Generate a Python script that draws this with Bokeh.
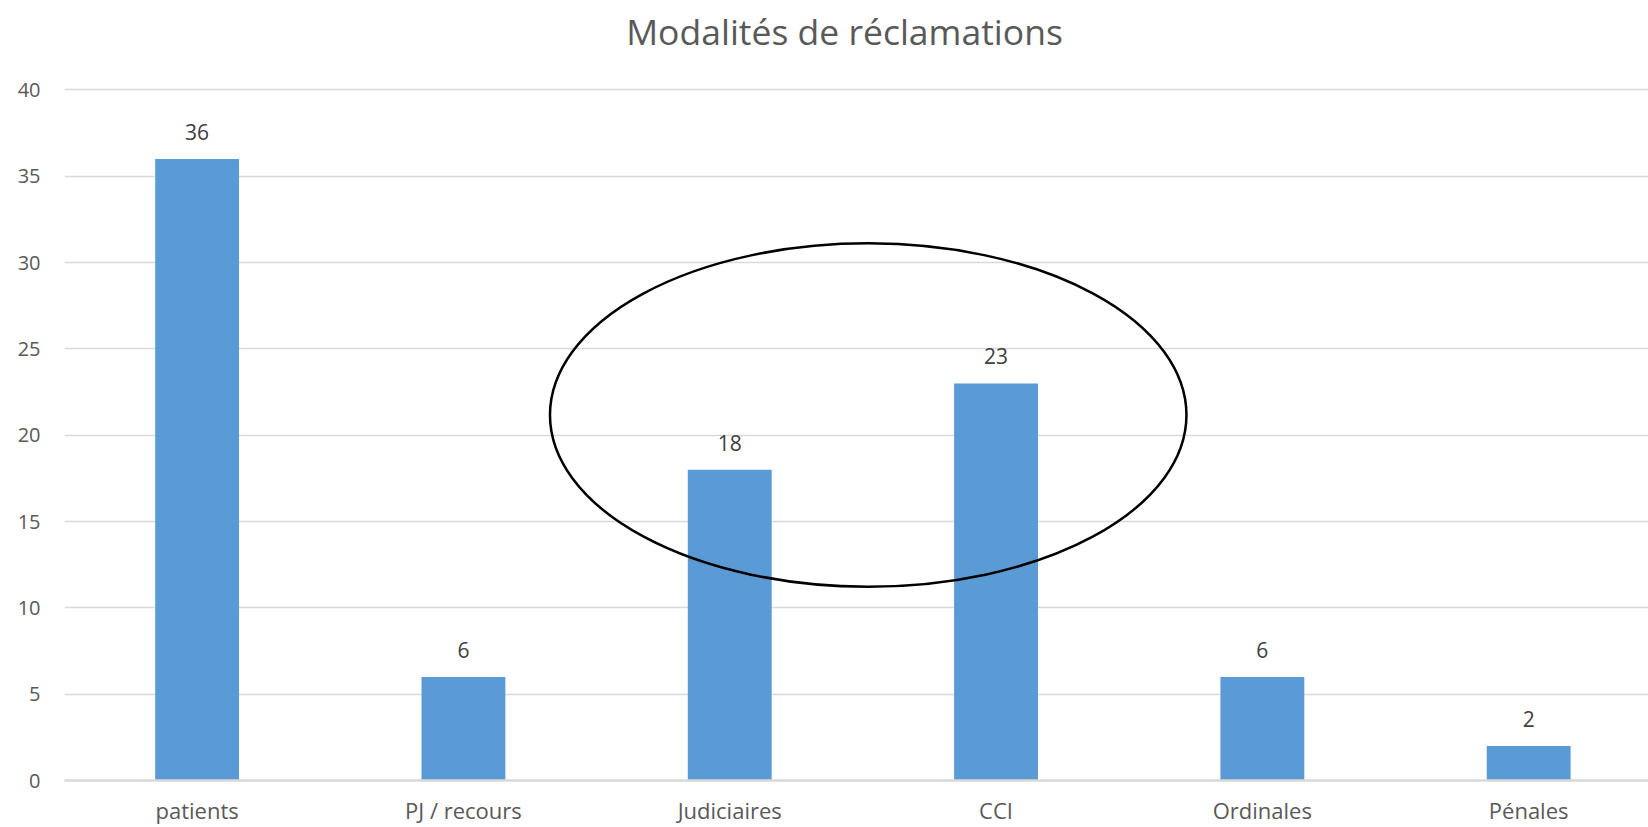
from bokeh.plotting import figure
from bokeh.models import FixedTicker, Range1d, ColumnDataSource
from bokeh.core.properties import value
from bokeh.embed import file_html
from bokeh.resources import INLINE

# ---- data ----
categories = ["patients", "PJ / recours", "Judiciaires", "CCI", "Ordinales", "Pénales"]
counts = [36, 6, 18, 23, 6, 2]
y_ticks = [0, 5, 10, 15, 20, 25, 30, 35, 40]
title_text = "Modalités de réclamations"
highlight = ["Judiciaires", "CCI"]

FONT = "Open Sans"
xs = list(range(len(categories)))

p = figure(width=1648, height=827, output_backend="svg", toolbar_location=None,
           x_range=Range1d(-0.498, 5.45), y_range=Range1d(0, 45.18),
           min_border_left=64, min_border_right=0, min_border_top=0, min_border_bottom=0)
p.outline_line_color = None
p.background_fill_color = "white"
p.border_fill_color = "white"

src = ColumnDataSource(dict(x=xs, top=counts, lab=[str(c) for c in counts]))
p.vbar(x="x", top="top", width=0.315, bottom=0, source=src,
       fill_color="#5B9BD5", line_color=None)

p.text(x="x", y="top", text="lab", source=src, text_align="center",
       text_baseline="middle", y_offset=-27, text_font=value(FONT),
       text_font_size="21px", text_color="#404040")

# highlight ellipse around the selected categories
idx = [categories.index(c) for c in highlight]
vals = [counts[i] for i in idx]
cx = sum(idx) / len(idx) + 0.02
cy = sum(vals) / len(vals) + 0.67
p.ellipse(x=[cx], y=[cy], width=2.39, height=19.9, fill_color=None,
          line_color="black", line_width=2.5)

# title
p.text(x=[2.431], y=[43.39], text=[title_text], text_align="center",
       text_baseline="middle", text_font=value(FONT), text_font_size="35.5px",
       text_color="#595959")

# axes
p.xaxis.ticker = FixedTicker(ticks=xs)
p.xaxis.major_label_overrides = {i: c for i, c in enumerate(categories)}
p.xaxis.major_tick_line_color = None
p.xaxis.major_tick_out = 0
p.xaxis.major_tick_in = 0
p.xaxis.minor_tick_line_color = None
p.xaxis.axis_line_color = "#D9D9D9"
p.xaxis.axis_line_width = 2.5
p.xaxis.major_label_text_font = FONT
p.xaxis.major_label_text_font_size = "22px"
p.xaxis.major_label_text_color = "#595959"
p.xaxis.major_label_standoff = 14

p.yaxis.ticker = FixedTicker(ticks=y_ticks)
p.yaxis.axis_line_color = None
p.yaxis.major_tick_line_color = None
p.yaxis.major_tick_out = 0
p.yaxis.major_tick_in = 0
p.yaxis.minor_tick_line_color = None
p.yaxis.major_label_text_font = FONT
p.yaxis.major_label_text_font_size = "20px"
p.yaxis.major_label_text_color = "#595959"
p.yaxis.major_label_standoff = 24

p.xgrid.grid_line_color = None
p.ygrid.ticker = FixedTicker(ticks=y_ticks[1:])
p.ygrid.grid_line_color = "#D9D9D9"
p.ygrid.grid_line_width = 1.5

open("out.html", "w").write(file_html(p, INLINE))
